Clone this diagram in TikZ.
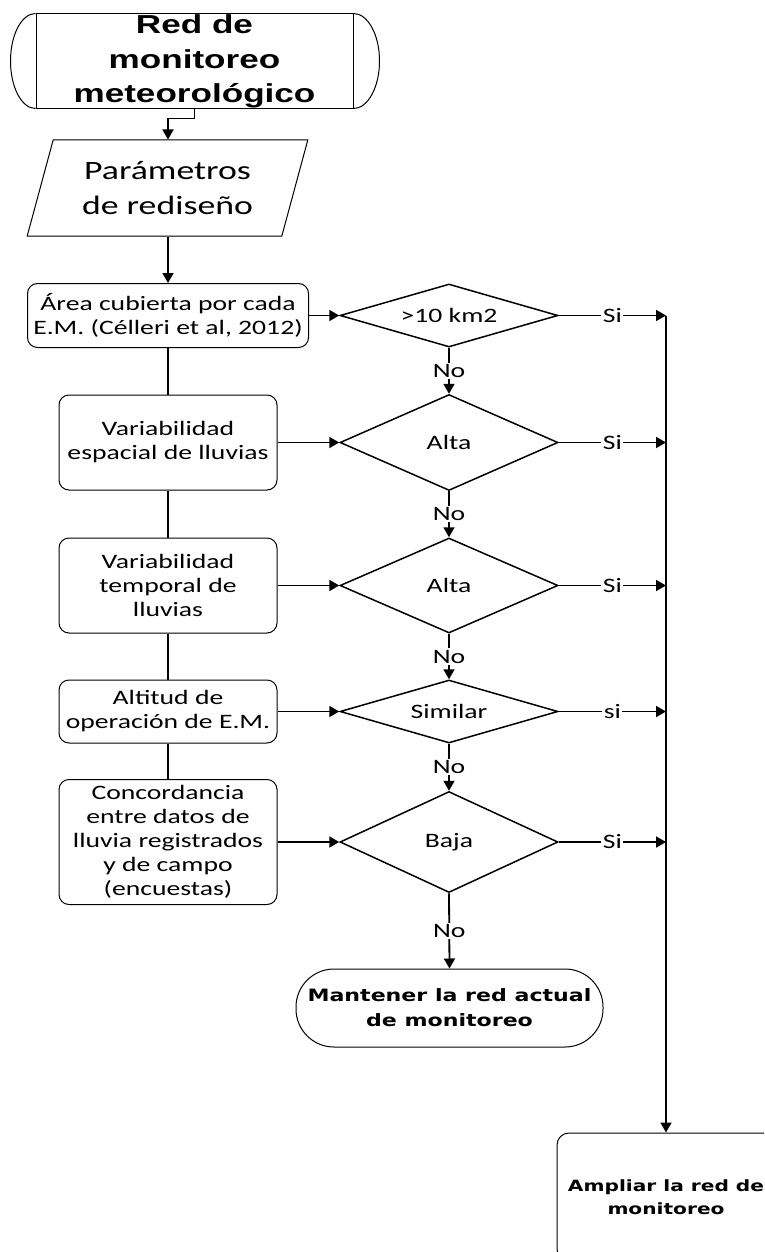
\documentclass[tikz,border=0pt]{standalone}
\usepackage{fontspec}
\usetikzlibrary{shapes.geometric,arrows.meta,positioning}
\newfontfamily\boxfont[FakeStretch=1.35]{Carlito}
\newfontfamily\headfont[FakeStretch=1.35]{Liberation Sans}
\newfontfamily\endfont[FakeStretch=1.3]{DejaVu Sans}

\begin{document}
\begin{tikzpicture}[x=1pt, y=-1pt,
            proc/.style={draw, line width=1pt, rounded corners=10pt, minimum width=218pt, inner sep=0pt, align=center, font=\boxfont\fontsize{20.5}{24}\selectfont},
            test/.style={draw, diamond, line width=1.5pt, minimum width=218pt, inner sep=0pt, font=\boxfont\fontsize{20.5}{24}\selectfont},
            term/.style={draw, line width=1pt, inner sep=0pt, align=center},
            link/.style={line width=1.8pt},
            arr/.style={link, -{Triangle[length=10pt, width=11pt]}},
            lbl/.style={fill=white, inner sep=1.5pt, font=\boxfont\fontsize{20.5}{24}\selectfont}]
            \useasboundingbox (0,0) rectangle (764,1252);
            \clip (0,0) rectangle (764,1252);

            \node[term, minimum width=317pt, minimum height=95pt, font=\headfont\bfseries\fontsize{26}{34.5}\selectfont] (start) at (194.5,61.5) {Red de\\monitoreo\\meteorológico};
            \draw[line width=1pt] (start.north west) arc[start angle=90, end angle=270, x radius=25pt, y radius=47.5pt];
            \draw[line width=1pt] (start.north east) arc[start angle=90, end angle=-90, x radius=26pt, y radius=47.5pt];

            \node[term, trapezium, trapezium left angle=70, trapezium right angle=110, trapezium stretches=true, minimum width=281pt, minimum height=96pt, font=\boxfont\fontsize{26.5}{35}\selectfont] (param) at (167.5,188) {Parámetros\\de rediseño};

            \node[proc, minimum width=281pt, minimum height=64pt] (area) at (168,315.5) {Área cubierta por cada\\E.M. (Célleri et al, 2012)};
            \node[proc, minimum height=95pt] (espacial) at (168,442.5) {Variabilidad\\espacial de lluvias};
            \node[proc, minimum height=95pt] (temporal) at (168,585.5) {Variabilidad\\temporal de\\lluvias};
            \node[proc, minimum height=63pt] (altitud) at (168,711.5) {Altitud de\\operación de E.M.};
            \node[proc, minimum height=125pt] (concord) at (168,842) {Concordancia\\entre datos de\\lluvia registrados\\y de campo\\(encuestas)};

            \node[test, aspect=3.46, minimum height=63pt] (qarea) at (449,315.5) {>10 km2};
            \node[test, aspect=2.27, minimum height=96pt] (qesp) at (449,442.5) {Alta};
            \node[test, aspect=2.29, minimum height=95pt] (qtemp) at (449,585.5) {Alta};
            \node[test, aspect=3.46, minimum height=63pt] (qalt) at (449,711.5) {Similar};
            \node[test, aspect=2.16, minimum height=101pt] (qconc) at (449,842) {Baja};

            \node[term, rounded corners=38pt, minimum width=307pt, minimum height=78pt, font=\endfont\bfseries\fontsize{17}{25}\selectfont] (keep) at (449.5,1008) {Mantener la red actual\\de monitoreo};
            \node[term, rounded corners=12pt, minimum width=218pt, minimum height=128pt, font=\endfont\bfseries\fontsize{15.5}{23}\selectfont] (expand) at (666,1197) {Ampliar la red de\\monitoreo};
            \coordinate (spine) at (666,315.5);

            \draw[arr] (start.south) -- ++(0,9) -| (param.north -| area.north);
            \draw[arr] (param.south -| area.north) -- (area.north);
            \foreach \a/\b in {area/espacial, espacial/temporal, temporal/altitud, altitud/concord}
                \draw[link] (\a) -- (\b);
            \foreach \a/\b in {area/qarea, espacial/qesp, temporal/qtemp, altitud/qalt, concord/qconc}
                \draw[arr] (\a.east) -- (\b.west);
            \foreach \a/\b in {qarea/qesp, qesp/qtemp, qtemp/qalt, qalt/qconc, qconc/keep}
                \draw[arr] (\a.south) -- node[lbl] {No} (\b.north);
            \foreach \q/\t in {qarea/Si, qesp/Si, qtemp/Si, qalt/si, qconc/Si}
                \draw[arr] (\q.east) -- node[lbl] {\t} (\q.east -| spine);
            \draw[arr] (spine) -- (spine |- expand.north);
        \end{tikzpicture}
\end{document}
